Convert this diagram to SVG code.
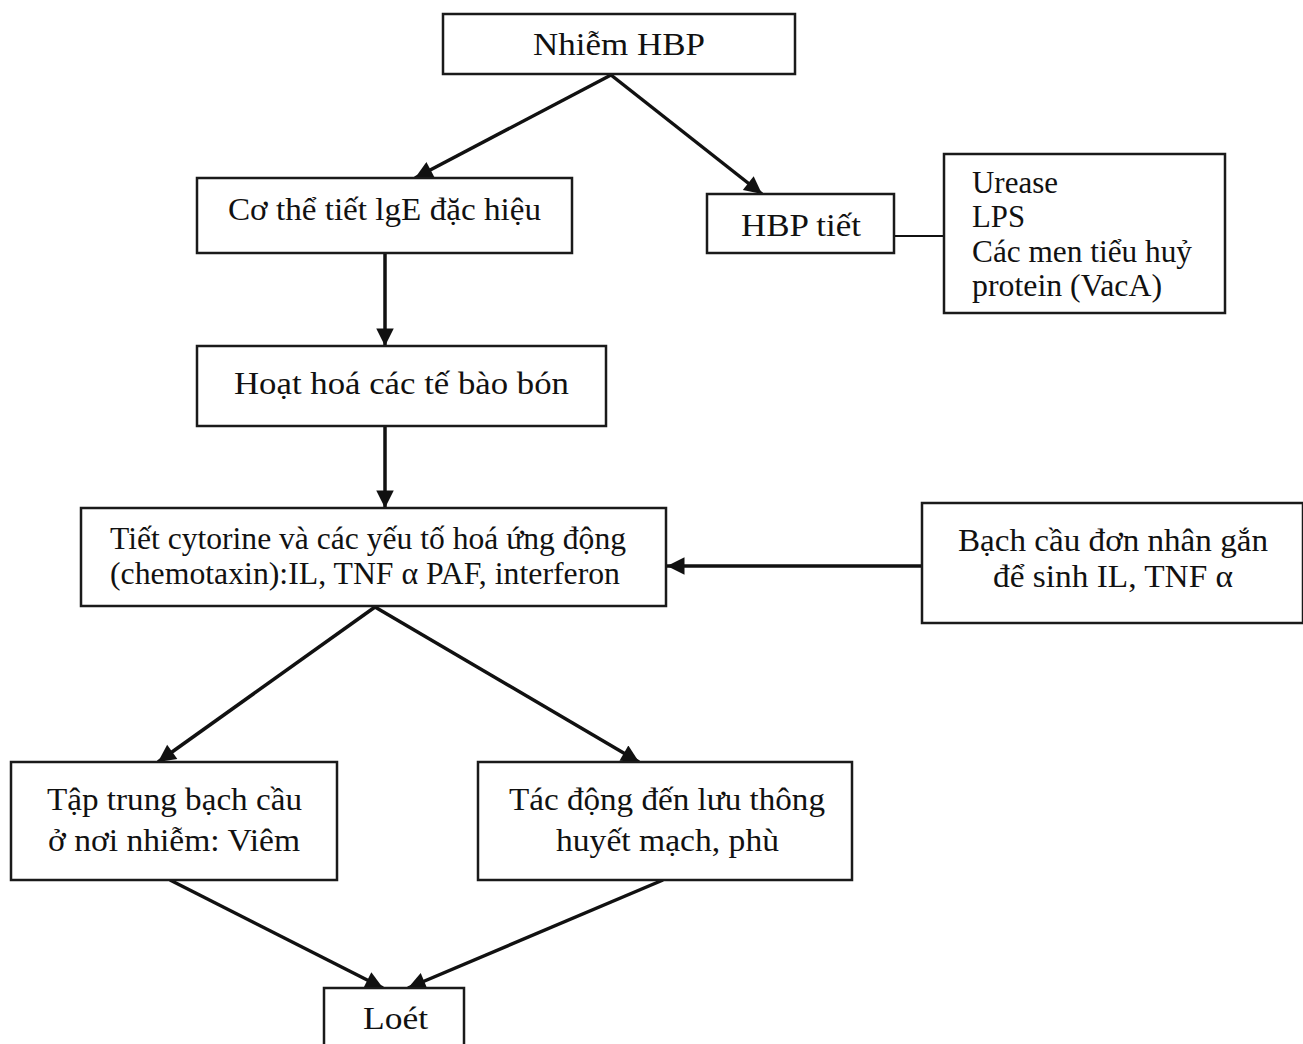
<svg xmlns="http://www.w3.org/2000/svg" width="1303" height="1044" viewBox="0 0 1303 1044">
<defs>
<style>
.box{fill:#fff;stroke:#1a1a1a;stroke-width:2.5}
.t{font-family:"Liberation Serif","Times New Roman",serif;font-size:31px;fill:#111}
.c{fill:none;stroke:#111;stroke-width:3.5}
</style>
<marker id="ah" viewBox="0 0 10 10" refX="10" refY="5" markerWidth="5.5" markerHeight="5" markerUnits="strokeWidth" orient="auto">
<path d="M0,0 L10,5 L0,10 z" fill="#111"/>
</marker>
</defs>
<rect width="1303" height="1044" fill="#fff"/>
<g id="connectors">
<line class="c" x1="611" y1="75" x2="415" y2="178" marker-end="url(#ah)"/>
<line class="c" x1="611" y1="75" x2="762" y2="194" marker-end="url(#ah)"/>
<line class="c" x1="385" y1="253" x2="385" y2="346" marker-end="url(#ah)"/>
<line class="c" x1="385" y1="426" x2="385" y2="508" marker-end="url(#ah)"/>
<line class="c" x1="375" y1="607" x2="158" y2="762" marker-end="url(#ah)"/>
<line class="c" x1="375" y1="607" x2="639" y2="762" marker-end="url(#ah)"/>
<line class="c" x1="170" y1="880" x2="383" y2="988" marker-end="url(#ah)"/>
<line class="c" x1="663" y1="880" x2="408" y2="988" marker-end="url(#ah)"/>
<line class="c" x1="922" y1="566" x2="667" y2="566" marker-end="url(#ah)"/>
<line class="c" x1="894" y1="236" x2="944" y2="236" style="stroke-width:2"/>
</g>
<g id="n1"><rect class="box" x="443" y="14" width="352" height="60"/><text class="t" x="533" y="55" textLength="172" lengthAdjust="spacingAndGlyphs">Nhiễm HBP</text></g>
<g id="n2"><rect class="box" x="197" y="178" width="375" height="75"/><text class="t" x="228" y="220" textLength="313" lengthAdjust="spacingAndGlyphs">Cơ thể tiết lgE đặc hiệu</text></g>
<g id="n3"><rect class="box" x="707" y="194" width="187" height="59"/><text class="t" x="741" y="236" textLength="120" lengthAdjust="spacingAndGlyphs">HBP tiết</text></g>
<g id="n4"><rect class="box" x="944" y="154" width="281" height="159"/>
<text class="t" x="972" y="193" textLength="86" lengthAdjust="spacingAndGlyphs">Urease</text>
<text class="t" x="972" y="227" textLength="53" lengthAdjust="spacingAndGlyphs">LPS</text>
<text class="t" x="972" y="262" textLength="220" lengthAdjust="spacingAndGlyphs">Các men tiểu huỷ</text>
<text class="t" x="972" y="296" textLength="190" lengthAdjust="spacingAndGlyphs">protein (VacA)</text></g>
<g id="n5"><rect class="box" x="197" y="346" width="409" height="80"/><text class="t" x="234" y="394" textLength="335" lengthAdjust="spacingAndGlyphs">Hoạt hoá các tế bào bón</text></g>
<g id="n6"><rect class="box" x="81" y="508" width="585" height="98"/>
<text class="t" x="110" y="549" textLength="516" lengthAdjust="spacingAndGlyphs">Tiết cytorine và các yếu tố hoá ứng động</text>
<text class="t" x="110" y="584" textLength="510" lengthAdjust="spacingAndGlyphs">(chemotaxin):IL, TNF α PAF, interferon</text></g>
<g id="n7"><rect class="box" x="922" y="503" width="381" height="120"/>
<text class="t" x="958" y="551" textLength="310" lengthAdjust="spacingAndGlyphs">Bạch cầu đơn nhân gắn</text>
<text class="t" x="993" y="587" textLength="240" lengthAdjust="spacingAndGlyphs">để sinh IL, TNF α</text></g>
<g id="n8"><rect class="box" x="11" y="762" width="326" height="118"/>
<text class="t" x="47" y="810" textLength="255" lengthAdjust="spacingAndGlyphs">Tập trung bạch cầu</text>
<text class="t" x="48" y="851" textLength="252" lengthAdjust="spacingAndGlyphs">ở nơi nhiễm: Viêm</text></g>
<g id="n9"><rect class="box" x="478" y="762" width="374" height="118"/>
<text class="t" x="509" y="810" textLength="316" lengthAdjust="spacingAndGlyphs">Tác động đến lưu thông</text>
<text class="t" x="556" y="851" textLength="223" lengthAdjust="spacingAndGlyphs">huyết mạch, phù</text></g>
<g id="n10"><rect class="box" x="324" y="988" width="140" height="70"/><text class="t" x="363" y="1029" textLength="65" lengthAdjust="spacingAndGlyphs">Loét</text></g>
</svg>
